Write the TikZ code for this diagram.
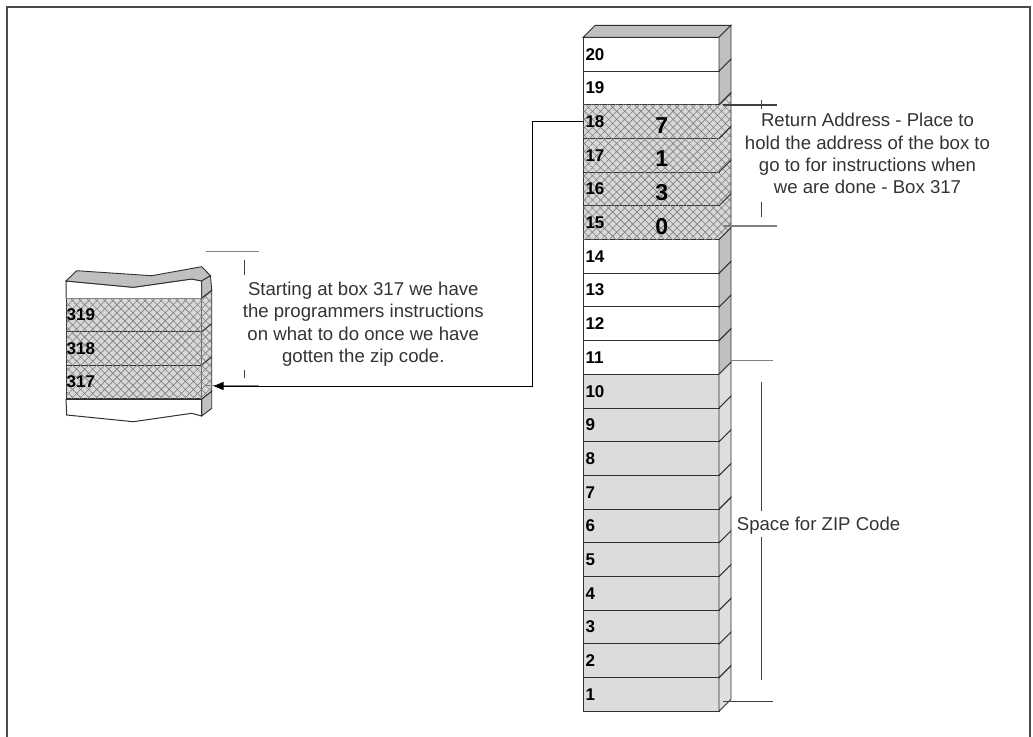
\documentclass[tikz,border=0pt]{standalone}
\usepackage{fontspec}
\setmainfont{Liberation Sans}
\usetikzlibrary{patterns.meta,arrows.meta,calc}
\definecolor{framec}{HTML}{4A4A4A}
\definecolor{sidedark}{HTML}{C0C0C0}
\definecolor{zipfill}{HTML}{DCDCDC}
\definecolor{zipside}{HTML}{DEDEDE}
\definecolor{hatchbg}{HTML}{D8D8D8}
\definecolor{hatchln}{HTML}{7C7C7C}
\definecolor{edgec}{HTML}{303030}
\definecolor{txtc}{HTML}{333333}
\definecolor{brkgray}{HTML}{808080}
\definecolor{brkdark}{HTML}{404040}
\tikzset{
  hatched/.style={fill=hatchbg,
    postaction={pattern={Lines[angle=45,distance=5.7pt,line width=0.6pt]}, pattern color=hatchln},
    postaction={pattern={Lines[angle=-45,distance=5.7pt,line width=0.6pt]}, pattern color=hatchln}},
  cell/.style={draw=edgec, line width=1pt, minimum width=135.7pt, minimum height=33.7pt,
    inner sep=0pt, outer sep=0pt, anchor=north west},
  fcell/.style={cell, minimum height=33.4pt},
  rowlab/.style={anchor=west, inner sep=2pt, font=\bfseries\fontsize{17}{17}\selectfont},
  fraglab/.style={anchor=west, inner sep=0.5pt, font=\bfseries\fontsize{17}{17}\selectfont},
  bigdigit/.style={anchor=base, inner sep=0pt, font=\bfseries\fontsize{23}{23}\selectfont},
  note/.style={align=center, inner sep=0pt, text=txtc, font=\fontsize{18.6}{22.2}\selectfont},
  sideface/.style={draw=edgec, line width=0.9pt},
  brkline/.style={line width=1.3pt},
  arrowline/.style={draw=black, line width=1pt, -{Triangle[length=10pt,width=8pt]}},
}
\begin{document}
\begin{tikzpicture}[x=1pt,y=-1pt]
\useasboundingbox (0,0) rectangle (1033,736);
\draw[framec, line width=2pt] (7,7) rectangle (1030,745);

% ---------- memory column ----------
\filldraw[fill=sidedark, draw=edgec, line width=0.9pt]
  (583.3,37.3) -- (595.3,25.3) -- (731,25.3) -- (719,37.3) -- cycle;
\foreach \k in {11,12,13,14,19,20} {
  \pgfmathsetmacro\t{37.3+(20-\k)*33.7}
  \node[cell, fill=white] (r\k) at (583.3,\t) {};
  \filldraw[fill=sidedark, sideface] (719,\t) -- (731,{\t-12}) -- (731,{\t+21.7}) -- (719,{\t+33.7}) -- cycle;
}
\foreach \k in {15,16,17,18} {
  \pgfmathsetmacro\t{37.3+(20-\k)*33.7}
  \node[cell, hatched] (r\k) at (583.3,\t) {};
  \path[hatched] (719,\t) -- (731,{\t-12}) -- (731,{\t+21.7}) -- (719,{\t+33.7}) -- cycle;
  \draw[sideface] (719,\t) -- (731,{\t-12}) -- (731,{\t+21.7}) -- (719,{\t+33.7});
}
\foreach \k in {1,...,10} {
  \pgfmathsetmacro\t{37.3+(20-\k)*33.7}
  \node[cell, fill=zipfill] (r\k) at (583.3,\t) {};
  \filldraw[fill=zipside, sideface] (719,\t) -- (731,{\t-12}) -- (731,{\t+21.7}) -- (719,{\t+33.7}) -- cycle;
}
\foreach \k in {1,...,20} {
  \node[rowlab] (l\k) at (r\k.west) {\k};
}
\foreach \k/\d in {18/7,17/1,16/3,15/0} {
  \node[bigdigit] (d\k) at ($(r\k.south west)+(78.4,-5.3)$) {\d};
}

% ---------- fragment of memory (boxes 317-319) ----------
\node[fcell, hatched] (f319) at (66,298.3) {};
\node[fcell, hatched] (f318) at (66,331.7) {};
\node[fcell, hatched] (f317) at (66,365.1) {};
\node[fraglab] (g319) at (f319.west) {319};
\node[fraglab] (g318) at (f318.west) {318};
\node[fraglab] (g317) at (f317.west) {317};
\filldraw[fill=white, draw=edgec, line width=1pt]
  (66,298.3) -- (66,281) -- (133.3,287.3) -- (191.7,279) -- (201.7,281) -- (201.7,298.3);
\filldraw[fill=sidedark, draw=edgec, line width=0.9pt]
  (66,281) -- (76.7,270.7) -- (151.7,275.7) -- (201.7,266.7) -- (210.5,275.7)
  -- (201.7,281) -- (191.7,279) -- (133.3,287.3) -- cycle;
\filldraw[fill=sidedark, sideface] (201.7,281) -- (210.5,275.7) -- (211.7,290.3) -- (201.7,298.3) -- cycle;
\path[hatched] (201.7,298.3) -- (211.7,290.3) -- (211.7,391.3) -- (201.7,399.3) -- cycle;
\draw[sideface] (201.7,298.3) -- (211.7,290.3) -- (211.7,391.3) -- (201.7,399.3);
\draw[sideface] (201.7,331.7) -- (211.7,323.7);
\draw[sideface] (201.7,365.1) -- (211.7,357.1);
\filldraw[fill=sidedark, sideface] (201.7,399.3) -- (211.7,391.3) -- (211.7,408.3) -- (201.7,416) -- cycle;
\filldraw[fill=white, draw=edgec, line width=1pt]
  (66,399.3) -- (201.7,399.3) -- (201.7,416) -- (191.7,413.3) -- (133.3,421.7) -- (66.7,415) -- cycle;
\coordinate (fside) at (213.5,386);

% ---------- annotation: starting at box 317 ----------
\draw[brkgray, brkline] (205.7,251.7) -- (259,251.7);
\draw[brkdark, line width=1pt] (244,259.5) -- (244,275);
\draw[brkdark, line width=1pt] (244,370) -- (244,378);
\draw[brkgray, brkline] (205.7,385.7) -- (259,385.7);
\node[note] (txtL) at (363.3,324.1) {Starting at box 317 we have\\the programmers instructions\\on what to do once we have\\gotten the zip code.};

% ---------- connector ----------
\draw[arrowline] (r18.west) -- ++(-50.6,0) |- (fside);

% ---------- annotation: return address ----------
\draw[brkdark, brkline] (723,105) -- (777,105);
\draw[brkdark, line width=1pt] (761.7,100) -- (761.7,108.5);
\draw[brkdark, line width=1pt] (761.7,201.7) -- (761.7,216.7);
\draw[brkgray, brkline] (723,226) -- (777,226);
\node[note] (txtR) at (867.5,153.6) {Return Address - Place to\\hold the address of the box to\\go to for instructions when\\we are done - Box 317};

% ---------- annotation: ZIP code ----------
\draw[brkgray, brkline] (730.7,360.7) -- (772.7,360.7);
\draw[brkdark, line width=1pt] (761,381.7) -- (761,510.7);
\draw[brkdark, line width=1pt] (761,537) -- (761,680);
\draw[brkdark, brkline] (723,701.7) -- (773,701.7);
\node[note, anchor=base west] (txtZ) at (736.7,530.7) {Space for ZIP Code};
\end{tikzpicture}
\end{document}
